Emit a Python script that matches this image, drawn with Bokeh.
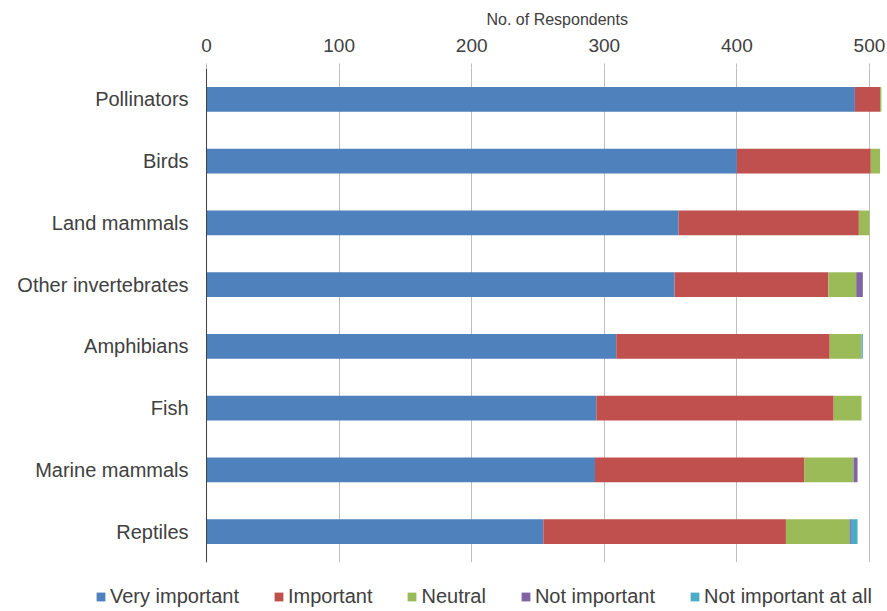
from bokeh.plotting import figure
from bokeh.layouts import column
from bokeh.models import (ColumnDataSource, FactorRange, Range1d, FixedTicker, Legend,
                          LegendItem, Span, Title)
from bokeh.core.properties import value
from bokeh.embed import file_html
from bokeh.resources import INLINE

categories = ["Pollinators", "Birds", "Land mammals", "Other invertebrates",
              "Amphibians", "Fish", "Marine mammals", "Reptiles"]
very_important = [489, 400, 356, 353, 309, 294, 293, 254]
important = [19, 101, 136, 116, 161, 179, 158, 183]
neutral = [1, 7, 8, 21, 24, 21, 37, 48]
not_important = [0, 0, 0, 5, 0, 0, 3, 1]
not_important_at_all = [0, 0, 0, 0, 1, 0, 0, 5]
series_names = ["Very important", "Important", "Neutral", "Not important", "Not important at all"]
x_ticks = [0, 100, 200, 300, 400, 500]

colors = ["#4F81BD", "#C0504D", "#9BBB59", "#8064A2", "#4BACC6"]
keys = ["vi", "im", "ne", "ni", "na"]

source = ColumnDataSource(dict(cat=categories, vi=very_important, im=important,
                               ne=neutral, ni=not_important, na=not_important_at_all,
                               base=[0] * len(categories)))

FONT = "Liberation Sans"
TXT = "#404040"

p = figure(width=887, height=570, output_backend="svg", toolbar_location=None,
           y_range=FactorRange(*list(reversed(categories)), range_padding=0),
           x_range=Range1d(-155.4, 513.6), x_axis_location="above", y_axis_location=None,
           min_border_left=0, min_border_right=0, min_border_top=68, min_border_bottom=8)

rs = p.hbar_stack(keys, y="cat", height=0.4, color=colors, source=source, line_width=0)

p.outline_line_color = None
p.ygrid.grid_line_color = None
p.xgrid.ticker = FixedTicker(ticks=x_ticks)
p.xgrid.grid_line_color = "#BFBFBF"
p.xgrid.grid_line_width = 1

xa = p.xaxis[0]
xa.ticker = FixedTicker(ticks=x_ticks)
xa.axis_line_color = None
xa.major_tick_line_color = "#BFBFBF"
xa.major_tick_out = 5
xa.major_tick_in = 0
xa.minor_tick_line_color = None
xa.major_label_standoff = 12
xa.major_label_text_font = FONT
xa.major_label_text_font_size = "19px"
xa.major_label_text_color = TXT

p.title = Title(text="No. of Respondents", align="left", offset=486, standoff=15,
                text_font=FONT, text_font_size="16px", text_font_style="normal",
                text_color=TXT)

# category axis: baseline and labels
p.add_layout(Span(location=0, dimension="height", line_color="#404040", line_width=1))
p.text(x="base", y="cat", text="cat", source=source, x_offset=-18,
       text_align="right", text_baseline="middle", text_font=value(FONT),
       text_font_size="20px", text_color=TXT)

# Legend strip below the chart (same series, glyphs kept outside its visible range)
lg = figure(width=887, height=41, output_backend="svg", toolbar_location=None,
            x_range=Range1d(-2000, -1000),
            y_range=FactorRange(*list(reversed(categories))),
            x_axis_location=None, y_axis_location=None,
            min_border=0)
lg.grid.grid_line_color = None
lg.outline_line_color = None
lrs = lg.hbar_stack(keys, y="cat", height=0.4, color=colors, source=source, line_width=0)

items = [LegendItem(label=n, renderers=[r]) for n, r in zip(series_names, lrs)]
legend = Legend(items=items, orientation="horizontal", location=(95, 3),
                glyph_width=11, glyph_height=11, label_standoff=4, spacing=34,
                padding=0, margin=0, border_line_color=None, background_fill_alpha=0,
                label_text_font=FONT, label_text_font_size="20px", label_text_color=TXT,
                label_height=20)
lg.add_layout(legend, "center")

layout = column(p, lg, spacing=0)
open("out.html", "w").write(file_html(layout, INLINE))
